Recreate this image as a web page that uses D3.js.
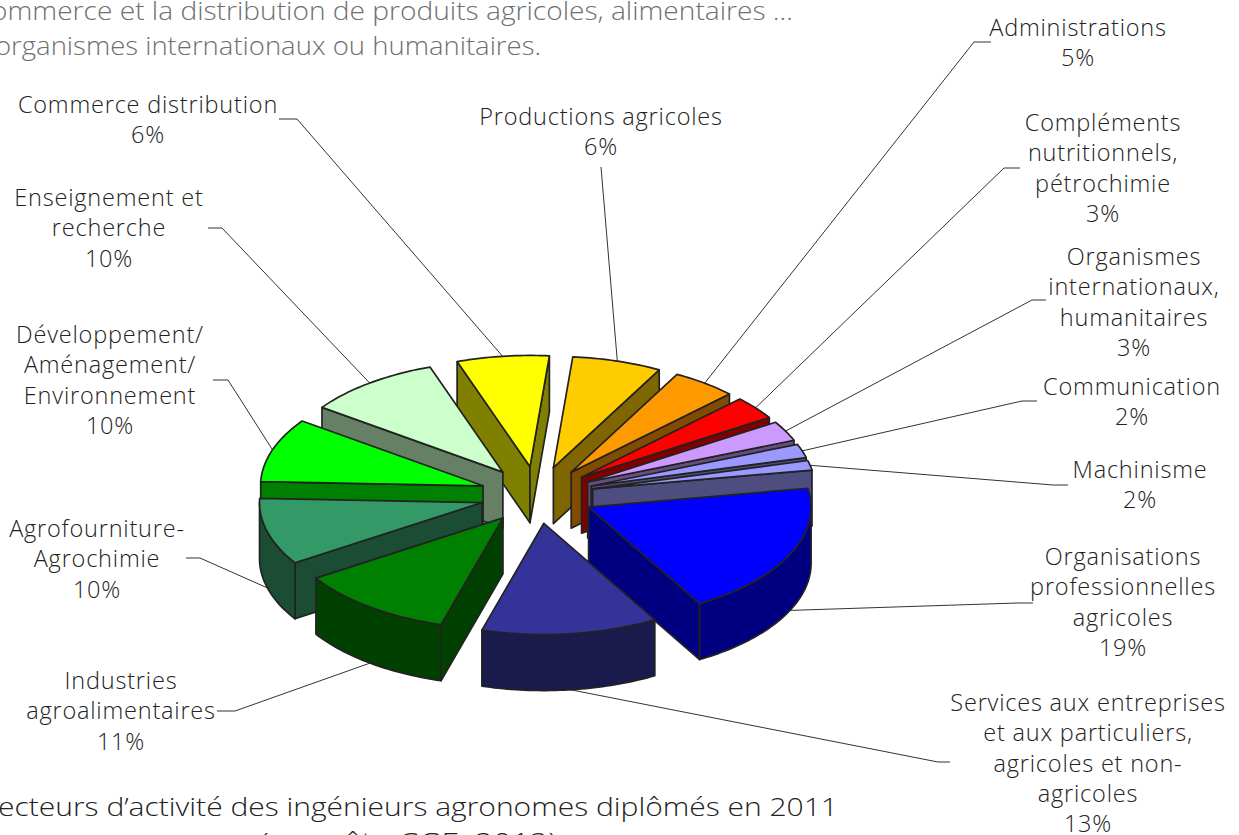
<!DOCTYPE html>
<html lang="fr"><head><meta charset="utf-8">
<script src="https://cdn.jsdelivr.net/npm/d3@7"></script>
<style>html,body{margin:0;padding:0;background:#fff;overflow:hidden}svg{display:block}</style>
</head><body><svg id="c" width="1239" height="835"></svg>
<script>
// ---- data ----
const categories = [
  ["Productions agricoles"],
  ["Administrations"],
  ["Compléments","nutritionnels,","pétrochimie"],
  ["Organismes","internationaux,","humanitaires"],
  ["Communication"],
  ["Machinisme"],
  ["Organisations","professionnelles","agricoles"],
  ["Services aux entreprises","et aux particuliers,","agricoles et non-","agricoles"],
  ["Industries","agroalimentaires"],
  ["Agrofourniture-","Agrochimie"],
  ["Développement/","Aménagement/","Environnement"],
  ["Enseignement et","recherche"],
  ["Commerce distribution"]
];
const percentLabels = ["6%","5%","3%","3%","2%","2%","19%","13%","11%","10%","10%","10%","6%"];
// slice sizes as drawn (measured from the arc of each slice)
const shares = [6.5,4.7,3.4,2.9,2.0,1.4,19.4,12.8,11.4,9.7,9.3,9.8,6.7];
const topColors = ["#FFCC00","#FF9900","#FF0000","#CC99FF","#9999FF","#9999FF","#0000FF","#333399","#008000","#339966","#00FF00","#CCFFCC","#FFFF00"];

// ---- layout of the labels (centre x, first line y, leader polyline start) ----
const labelX = [601,1078,1103,1134,1132,1140,1123,1088,121,97,110,109,148];
const labelY = [116,27,122,256,386,469,556,702,680,528,334,197,104];
const leaderStart = [
  [[601,167]],
  [[991,42],[974,42]],
  [[1020,168],[1004,168]],
  [[1046,300],[1032,300]],
  [[1037,401],[1022,401]],
  [[1068,485],[1053,485]],
  [[1033,603],[1017,603]],
  [[950,762],[938,762]],
  [[217,711],[235,711]],
  [[186,558],[200,558]],
  [[213,380],[228,380]],
  [[208,228],[222,228]],
  [[279,119],[297,119]]
];
const lineGap = 30.3;

// ---- projection ----
const cx = 537, cy = 495, radius = 222.5, tilt = 0.5, depth = 56, explode = 57;
const firstAngle = 5 * Math.PI / 180;
const svg = d3.select("#c");

const pie = d3.pie().sort(null).value(d => d).startAngle(firstAngle).endAngle(firstAngle + 2 * Math.PI);
const arcs = pie(shares).map((a, i) => {
  const mid = (a.startAngle + a.endAngle) / 2;
  return {...a, i, mid, ox: cx + explode * Math.sin(mid), oy: cy - explode * tilt * Math.cos(mid)};
});
const pt = (a, ang, r = radius, z = 0) => [a.ox + r * Math.sin(ang), a.oy - r * tilt * Math.cos(ang) + z];
const sampleArc = (a, from, to, z = 0) => {
  const n = Math.max(2, Math.ceil(Math.abs(to - from) / 0.02));
  return d3.range(n + 1).map(k => pt(a, from + (to - from) * k / n, radius, z));
};
const line = d3.line();
const closed = p => line(p) + "Z";
const sideColor = c => d3.interpolateRgb(c, "#000")(0.5);

// ---- leader lines, under the pie ----
const leaders = svg.append("g");
arcs.forEach(a => {
  const front = Math.cos(a.mid) < 0;
  const end = pt(a, a.mid, radius, front ? depth : 0);
  leaders.append("path").attr("d", line([...leaderStart[a.i], end]))
    .attr("fill", "none").attr("stroke", "#333").attr("stroke-width", 1);
});

// ---- slices, back to front ----
const slices = svg.append("g").attr("stroke", "#222").attr("stroke-width", 1.7).attr("stroke-linejoin", "round");
arcs.slice().sort((p, q) => Math.cos(q.mid) - Math.cos(p.mid)).forEach(a => {
  const g = slices.append("g");
  const side = sideColor(topColors[a.i]);
  const apex = pt(a, 0, 0), apexLow = pt(a, 0, 0, depth);
  const wall = ang => closed([apex, pt(a, ang), pt(a, ang, radius, depth), apexLow]);
  if (Math.sin(a.startAngle) < 0) g.append("path").attr("d", wall(a.startAngle)).attr("fill", side);
  if (Math.sin(a.endAngle) > 0) g.append("path").attr("d", wall(a.endAngle)).attr("fill", side);
  const lo = Math.max(a.startAngle, Math.PI / 2), hi = Math.min(a.endAngle, 3 * Math.PI / 2);
  if (hi > lo) {
    g.append("path").attr("d", closed([...sampleArc(a, lo, hi), ...sampleArc(a, hi, lo, depth)])).attr("fill", side);
  }
  g.append("path").attr("d", closed([apex, ...sampleArc(a, a.startAngle, a.endAngle)])).attr("fill", topColors[a.i]);
});

// ---- labels ----
const labels = svg.append("g").attr("font-family", "'Open Sans', Lato, sans-serif").attr("font-weight", 300).attr("font-size", 23.5)
  .attr("letter-spacing", 0.8).attr("fill", "#222").attr("text-anchor", "middle");
arcs.forEach(a => {
  const lines = [...categories[a.i], percentLabels[a.i]];
  const t = labels.append("text").attr("dominant-baseline", "central");
  lines.forEach((s, k) => t.append("tspan").attr("x", labelX[a.i]).attr("y", labelY[a.i] + k * lineGap).text(s));
});

// ---- surrounding text ----
const pageLines = [
  {t:"ommerce et la distribution de produits agricoles, alimentaires …", x:793, y:20, fill:"#707070", len:802},
  {t:"organismes internationaux ou humanitaires.", x:541, y:55, fill:"#707070", len:546},
  {t:"ecteurs d’activité des ingénieurs agronomes diplômés en 2011", x:838, y:816, fill:"#222", len:840},
  {t:"(enquête CGE, 2012)", x:557, y:851, fill:"#222", len:297}
];
svg.append("g").attr("font-family", "'Open Sans', sans-serif").attr("font-weight", 300).attr("font-size", 25.5).attr("text-anchor", "end")
  .selectAll("text").data(pageLines).join("text")
  .attr("x", d => d.x).attr("y", d => d.y).attr("fill", d => d.fill).text(d => d.t)
  .attr("textLength", d => d.len).attr("lengthAdjust", "spacingAndGlyphs");
</script></body></html>
